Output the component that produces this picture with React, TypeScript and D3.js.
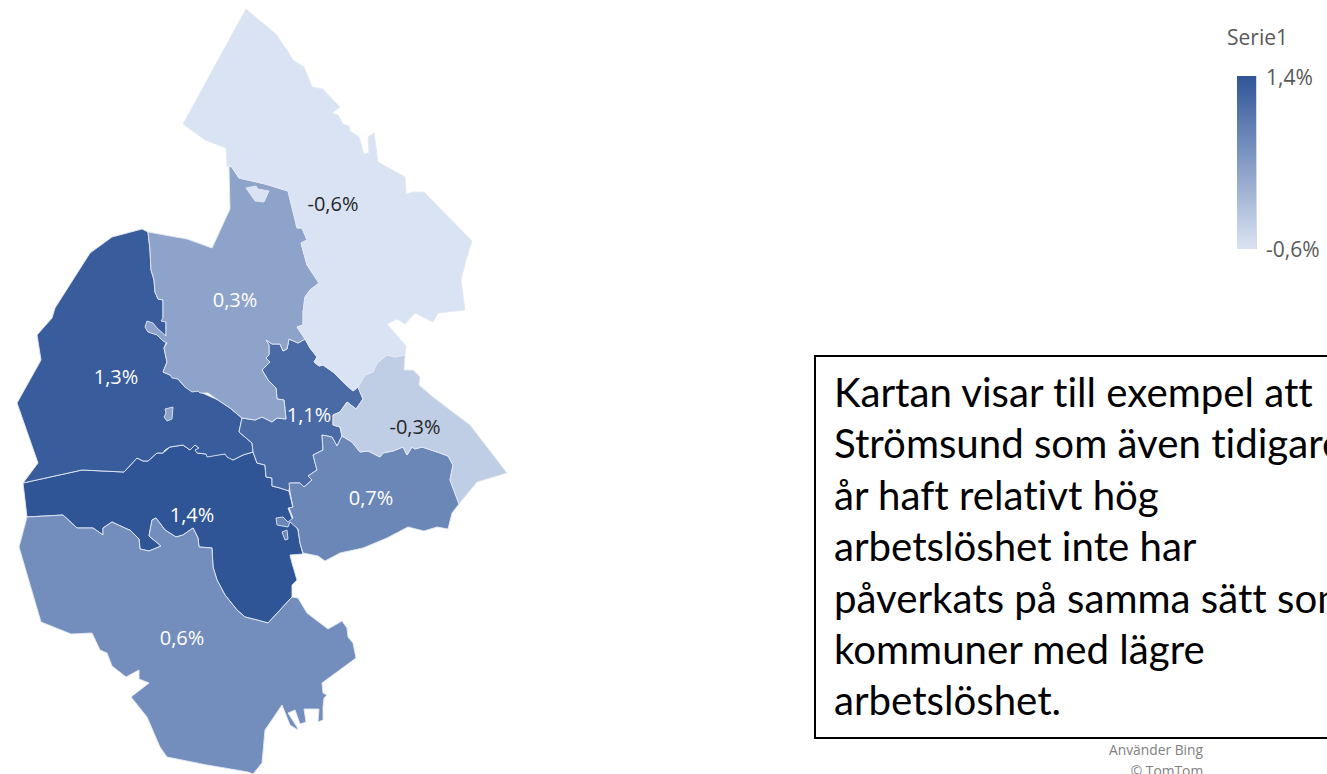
import React from "react";
import * as d3 from "d3";

const width = 1327;
const height = 774;

// municipality values, in percent
const names = ["E", "C", "D", "F", "H", "G", "B", "A"];
const values = [1.4, 1.3, 1.1, 0.7, -0.3, 0.6, 0.3, -0.6];
const labelAt = [
  [192, 515],
  [116, 377],
  [309, 415],
  [371, 498],
  [415, 427],
  [182, 638],
  [235, 300],
  [333, 204],
];
const legendTicks = [1.4, -0.6];

const ringA = [
  [246, 9], [277, 35], [281, 42], [287, 50], [293, 60], [304, 67], [312, 87], [323, 89], [333, 100], [340, 107],
  [332, 113], [338, 115], [343, 124], [349, 126], [350, 131], [359, 137], [364, 154], [369, 153], [368, 137], [374, 133],
  [378, 162], [405, 177], [406, 194], [413, 192], [424, 192], [472, 241], [466, 260], [461, 280], [465, 310], [438, 313],
  [433, 322], [427, 319], [415, 313], [405, 324], [397, 319], [387, 324], [406, 346], [405, 355], [395, 357], [387, 355],
  [377, 363], [373, 372], [365, 375], [358, 387], [353, 391], [343, 382], [333, 372], [323, 365], [319, 366], [314, 362],
  [317, 357], [310, 348], [305, 339], [297, 327], [303, 325], [303, 312], [305, 297], [310, 290], [319, 283], [307, 265],
  [301, 243], [307, 240], [302, 228], [297, 228], [288, 191], [265, 184], [239, 178], [231, 166], [227, 167], [226, 148],
  [205, 140], [183, 124],
];
const islandA = [[246, 188], [256, 186], [258, 189], [269, 191], [264, 202], [255, 201]];

const ringB = [
  [231, 166], [239, 178], [265, 184], [288, 191], [297, 228], [302, 228], [307, 240], [301, 243], [307, 265], [319, 283],
  [310, 290], [305, 297], [303, 312], [303, 325], [297, 327], [305, 339], [298, 343], [289, 339], [287, 349], [283, 351],
  [280, 344], [272, 344], [266, 340], [269, 345], [269, 355], [266, 358], [270, 362], [262, 370], [268, 380], [276, 388],
  [277, 399], [284, 400], [286, 419], [277, 418], [272, 422], [262, 417], [255, 420], [242, 418], [230, 408], [218, 400],
  [208, 393], [200, 393], [198, 391], [192, 392], [185, 387], [178, 379], [172, 378], [170, 375], [163, 372], [167, 362],
  [164, 348], [167, 343], [163, 341], [157, 335], [148, 332], [145, 327], [147, 321], [153, 323], [157, 328], [166, 336],
  [166, 322], [161, 321], [163, 318], [163, 300], [158, 299], [155, 292], [154, 280], [151, 270], [150, 250], [148, 232],
  [187, 239], [212, 248], [230, 209], [229, 167],
];
const islandB = [[165, 409], [173, 407], [172, 419], [167, 421], [164, 417], [166, 413]];

const ringC = [
  [142, 229], [148, 232], [150, 250], [151, 270], [154, 280], [155, 292], [158, 299], [163, 300], [163, 318], [166, 322],
  [166, 343], [164, 348], [167, 362], [163, 372], [170, 375], [178, 379], [185, 387], [198, 391], [218, 400], [230, 408],
  [242, 418], [239, 432], [252, 443], [253, 452], [243, 455], [233, 460], [227, 457], [225, 454], [207, 457], [206, 454],
  [197, 453], [195, 450], [199, 448], [195, 445], [190, 450], [183, 445], [170, 447], [165, 450], [163, 453], [157, 453],
  [148, 461], [143, 461], [137, 458], [124, 472], [82, 470], [23, 483], [38, 463], [17, 403], [41, 360], [37, 335],
  [52, 318], [55, 308], [90, 253], [112, 237],
];

const ringD = [
  [305, 339], [310, 348], [317, 357], [314, 362], [319, 366], [323, 365], [333, 372], [343, 382], [353, 391], [358, 387],
  [363, 399], [356, 409], [347, 402], [340, 412], [333, 415], [333, 425], [340, 427], [342, 436], [337, 446], [332, 437],
  [322, 435], [323, 450], [313, 455], [317, 470], [308, 476], [312, 480], [304, 487], [300, 483], [290, 483], [289, 491],
  [280, 488], [272, 486], [272, 478], [266, 477], [265, 465], [257, 463], [253, 452], [252, 443], [239, 432], [242, 418],
  [255, 420], [262, 417], [272, 422], [277, 418], [286, 419], [284, 400], [277, 399], [276, 388], [268, 380], [262, 370],
  [270, 362], [266, 358], [269, 355], [269, 345], [266, 340], [272, 344], [280, 344], [283, 351], [287, 349], [289, 339],
  [298, 343],
];

const ringE = [
  [23, 483], [82, 470], [124, 472], [137, 458], [143, 461], [148, 461], [157, 453], [163, 453], [170, 447], [183, 445],
  [190, 450], [195, 445], [199, 448], [197, 453], [206, 454], [225, 454], [233, 460], [243, 455], [253, 452], [257, 463],
  [265, 465], [266, 477], [272, 478], [272, 486], [280, 488], [289, 491], [293, 508], [288, 508], [292, 518], [298, 530],
  [300, 543], [303, 554], [290, 555], [292, 563], [297, 580], [292, 585], [292, 597], [268, 623], [257, 620], [245, 617],
  [237, 610], [225, 595], [217, 580], [213, 567], [212, 548], [199, 547], [198, 538], [193, 528], [183, 535], [176, 537],
  [165, 530], [156, 518], [152, 520], [149, 536], [161, 546], [149, 551], [140, 549], [139, 539], [130, 530], [127, 529],
  [112, 522], [103, 528], [103, 535], [93, 528], [77, 528], [63, 515], [27, 517],
];

const ringF = [
  [342, 436], [352, 442], [360, 452], [368, 451], [380, 457], [383, 453], [393, 451], [403, 447], [407, 455], [412, 447],
  [415, 449], [422, 447], [440, 453], [448, 456], [453, 465], [450, 480], [459, 504], [452, 513], [448, 529], [437, 527],
  [424, 531], [408, 527], [387, 538], [363, 548], [340, 553], [325, 561], [318, 556], [303, 553], [300, 543], [298, 529],
  [290, 522], [288, 527], [277, 525], [276, 518], [283, 517], [288, 522], [293, 518], [289, 508], [293, 507], [290, 492],
  [289, 483], [300, 483], [304, 487], [312, 480], [308, 476], [317, 470], [313, 455], [323, 450], [322, 435], [332, 437],
  [337, 446],
];
const islandF = [[282, 532], [287, 530], [288, 539], [285, 540]];

const ringG = [
  [27, 517], [63, 515], [77, 528], [93, 528], [103, 535], [103, 528], [112, 522], [127, 529], [130, 530], [139, 539],
  [140, 549], [149, 551], [161, 546], [149, 536], [152, 520], [156, 518], [165, 530], [176, 537], [183, 535], [193, 528],
  [198, 538], [199, 547], [212, 548], [213, 567], [217, 580], [225, 595], [237, 610], [245, 617], [257, 620], [268, 623],
  [292, 597], [298, 598], [307, 613], [328, 629], [342, 621], [347, 628], [348, 637], [353, 643], [356, 658], [322, 683],
  [323, 693], [327, 695], [324, 698], [323, 707], [323, 720], [318, 722], [319, 709], [304, 709], [306, 722], [300, 724],
  [295, 710], [288, 713], [297, 727], [298, 730], [290, 725], [282, 705], [265, 730], [262, 763], [253, 774], [248, 772],
  [207, 765], [167, 757], [160, 747], [147, 717], [131, 697], [149, 683], [139, 679], [139, 670], [126, 677], [112, 666],
  [107, 653], [100, 650], [92, 633], [71, 634], [41, 622], [19, 547],
];

const ringH = [
  [405, 355], [404, 370], [413, 370], [420, 377], [419, 385], [433, 397], [470, 425], [507, 473], [477, 482], [459, 504],
  [450, 480], [453, 465], [448, 456], [440, 453], [422, 447], [415, 449], [412, 447], [407, 455], [403, 447], [393, 451],
  [383, 453], [380, 457], [368, 451], [360, 452], [352, 442], [342, 436], [340, 427], [333, 425], [333, 415], [340, 412],
  [347, 402], [356, 409], [363, 399], [358, 387], [365, 375], [373, 372], [377, 363], [387, 355], [395, 357],
];

const shapes = [[ringE], [ringC], [ringD], [ringF, islandF], [ringH], [ringG], [ringB, islandB], [ringA, islandA]];

const noteLines = [
  "Kartan visar till exempel att",
  "Strömsund som även tidigare",
  "år haft relativt hög",
  "arbetslöshet inte har",
  "påverkats på samma sätt som",
  "kommuner med lägre",
  "arbetslöshet.",
];

const color = d3.scaleLinear<string>().domain([-0.6, 1.4]).range(["#dae3f3", "#2f5597"]);
const legendY = d3.scaleLinear().domain([1.4, -0.6]).range([76, 249]);
const fmt = d3.formatLocale({ decimal: ",", thousands: " ", grouping: [3], currency: ["", " kr"], minus: "-" }).format(".1f");

const path = d3.geoPath(d3.geoIdentity());

export default function App() {
  const stops = d3.range(0, 1.01, 0.1);
  return (
    <svg
      width={width}
      height={height}
      style={{ position: "absolute", left: 0, top: 0, display: "block", background: "#fff" }}
      fontFamily="'Open Sans', sans-serif"
    >
      <defs>
        <linearGradient id="legendGrad" x1="0" x2="0" y1="0" y2="1">
          {stops.map((t) => (
            <stop key={t} offset={t} stopColor={color(1.4 - t * 2)} />
          ))}
        </linearGradient>
      </defs>

      <g stroke="#e3e9f4" strokeWidth={0.9} strokeLinejoin="round">
        {shapes.map((rings, i) => (
          <path
            key={names[i]}
            fill={color(values[i])}
            d={path({ type: "MultiPolygon", coordinates: rings.map((r) => [[...r, r[0]]]) } as any) as string}
          />
        ))}
      </g>

      <g fontSize={20} textAnchor="middle">
        {values.map((v, i) => (
          <text key={names[i]} x={labelAt[i][0]} y={labelAt[i][1] + 7} fill={v < 0 ? "#262626" : "#fff"}>
            {fmt(v)}%
          </text>
        ))}
      </g>

      <text x={1227} y={45} fontSize={21} fill="#595959">Serie1</text>
      <rect
        x={1237}
        y={legendY(1.4)}
        width={19}
        height={legendY(-0.6) - legendY(1.4)}
        fill="url(#legendGrad)"
      />
      <line x1={1256.5} x2={1256.5} y1={legendY(1.4)} y2={legendY(-0.6)} stroke="#d9d9d9" strokeWidth={1} />
      {legendTicks.map((t) => (
        <text key={t} x={1266} y={legendY(t) + (t > 0 ? 9 : 8)} fontSize={21} fill="#595959">
          {fmt(t)}%
        </text>
      ))}

      <rect x={815} y={356} width={560} height={382} fill="#fff" stroke="#000" strokeWidth={2} />
      <g fontFamily="Lato, sans-serif" fontSize={40.2} fill="#000" style={{ fontVariantLigatures: "none" }}>
        {noteLines.map((line, i) => (
          <text key={i} x={834} y={407 + i * 51.4}>{line}</text>
        ))}
      </g>

      <g fontSize={13.8} fill="#7f7f7f" textAnchor="middle">
        <text x={1156} y={755}>Använder Bing</text>
        <text x={1167} y={776}>© TomTom</text>
      </g>
    </svg>
  );
}
